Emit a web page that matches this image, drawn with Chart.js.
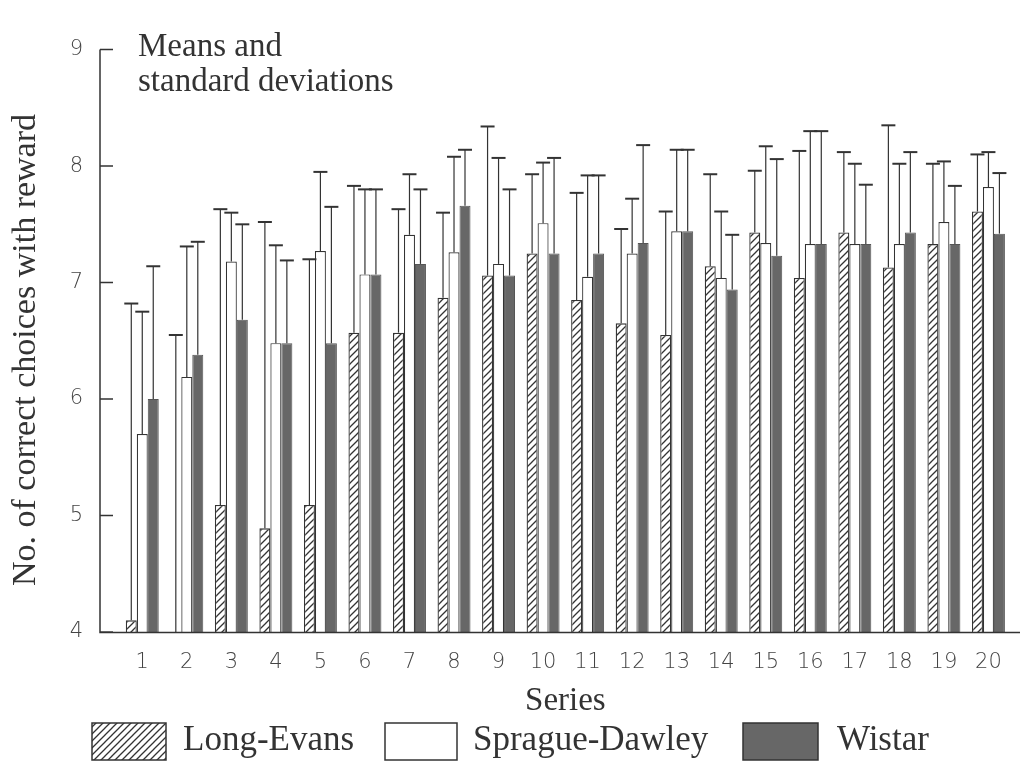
<!DOCTYPE html>
<html>
<head>
<meta charset="utf-8">
<title>Correct choices with reward</title>
<script src="https://cdn.jsdelivr.net/npm/chart.js@4/dist/chart.umd.min.js"></script>
<style>
	body { margin: 0; background: #fff; }
	#wrap { width: 1020px; height: 763px; }
</style>
</head>
<body>
<div id="wrap"><canvas id="barChart"></canvas></div>
<script>
// data
var series = ['1','2','3','4','5','6','7','8','9','10','11','12','13','14','15','16','17','18','19','20'];
var yTicks = [4, 5, 6, 7, 8, 9];

var longEvans   = [4.10, 4.00, 5.09, 4.89, 5.09, 6.57, 6.57, 6.87, 7.06, 7.25, 6.85, 6.65, 6.55, 7.14, 7.43, 7.04, 7.43, 7.13, 7.33, 7.61];
var longEvansSd = [2.72, 2.55, 2.54, 2.63, 2.11, 1.26, 1.06, 0.73, 1.28, 0.68, 0.92, 0.81, 1.06, 0.79, 0.53, 1.09, 0.69, 1.22, 0.69, 0.49];

var sprague     = [5.70, 6.19, 7.18, 6.48, 7.27, 7.07, 7.41, 7.26, 7.16, 7.51, 7.05, 7.25, 7.44, 7.04, 7.34, 7.33, 7.33, 7.33, 7.52, 7.82];
var spragueSd   = [1.05, 1.12, 0.42, 0.84, 0.68, 0.73, 0.52, 0.82, 0.91, 0.52, 0.87, 0.47, 0.70, 0.57, 0.83, 0.97, 0.69, 0.69, 0.52, 0.30];

var wistar      = [6.00, 6.38, 6.68, 6.48, 6.48, 7.07, 7.16, 7.66, 7.06, 7.25, 7.25, 7.34, 7.44, 6.94, 7.23, 7.33, 7.33, 7.43, 7.33, 7.42];
var wistarSd    = [1.14, 0.97, 0.82, 0.71, 1.17, 0.73, 0.64, 0.48, 0.74, 0.82, 0.67, 0.84, 0.70, 0.47, 0.83, 0.97, 0.51, 0.69, 0.50, 0.52];

var ink = '#333';
var darkGray = '#676767';
var serif = '"Liberation Serif", "Times New Roman", serif';
var sans = '"DejaVu Sans", sans-serif';

var makeHatch = function() {
	var c = document.createElement('canvas');
	c.width = 7; c.height = 7;
	var g = c.getContext('2d');
	g.fillStyle = '#fff';
	g.fillRect(0, 0, 7, 7);
	g.strokeStyle = ink;
	g.lineWidth = 1.3;
	g.beginPath();
	g.moveTo(-1, 8); g.lineTo(8, -1);
	g.moveTo(-2, 2); g.lineTo(2, -2);
	g.moveTo(5, 9); g.lineTo(9, 5);
	g.stroke();
	return g.createPattern(c, 'repeat');
};
var hatch = makeHatch();

var sds = [longEvansSd, spragueSd, wistarSd];

// error bars on top of each bar
var errorBars = {
	id: 'errorBars',
	afterDatasetsDraw: function(chart) {
		var ctx = chart.ctx, y = chart.scales.y;
		ctx.save();
		ctx.strokeStyle = ink;
		chart.data.datasets.forEach(function(ds, i) {
			chart.getDatasetMeta(i).data.forEach(function(bar, j) {
				var top = y.getPixelForValue(ds.data[j] + sds[i][j]);
				ctx.lineWidth = 1.2;
				ctx.beginPath();
				ctx.moveTo(bar.x, bar.y);
				ctx.lineTo(bar.x, top);
				ctx.stroke();
				ctx.lineWidth = 2;
				ctx.beginPath();
				ctx.moveTo(bar.x - 7, top);
				ctx.lineTo(bar.x + 7, top);
				ctx.stroke();
			});
		});
		ctx.restore();
	}
};

// axes lines, inward ticks, y title, note and legend
var decorations = {
	id: 'decorations',
	afterDraw: function(chart) {
		var ctx = chart.ctx, y = chart.scales.y, area = chart.chartArea;
		ctx.save();
		ctx.strokeStyle = ink;
		ctx.lineWidth = 1.5;
		ctx.beginPath();
		ctx.moveTo(100, y.getPixelForValue(9));
		ctx.lineTo(100, area.bottom + 0.5);
		ctx.lineTo(1020, area.bottom + 0.5);
		yTicks.forEach(function(v) {
			var py = y.getPixelForValue(v);
			ctx.moveTo(100, py);
			ctx.lineTo(113, py);
		});
		ctx.stroke();

		ctx.fillStyle = ink;
		ctx.font = '34px ' + serif;
		ctx.textAlign = 'center';
		ctx.textBaseline = 'middle';
		ctx.save();
		ctx.translate(26, 350);
		ctx.rotate(-Math.PI / 2);
		ctx.fillText('No. of correct choices with reward', 0, 0);
		ctx.restore();

		ctx.font = '33px ' + serif;
		ctx.textAlign = 'left';
		ctx.textBaseline = 'alphabetic';
		ctx.fillText('Means and', 138, 56);
		ctx.fillText('standard deviations', 138, 91);

		var items = [
			{ label: chart.data.datasets[0].label, fill: hatch, x: 92, w: 74, tx: 183 },
			{ label: chart.data.datasets[1].label, fill: '#fff', x: 385, w: 72, tx: 473 },
			{ label: chart.data.datasets[2].label, fill: darkGray, x: 743, w: 75, tx: 837 }
		];
		ctx.font = '35px ' + serif;
		ctx.textBaseline = 'middle';
		items.forEach(function(it) {
			ctx.fillStyle = it.fill;
			ctx.fillRect(it.x, 723, it.w, 37);
			ctx.lineWidth = 1.5;
			ctx.strokeStyle = ink;
			ctx.strokeRect(it.x, 723, it.w, 37);
			ctx.fillStyle = ink;
			ctx.fillText(it.label, it.tx, 741);
		});
		ctx.restore();
	}
};

var ctx = document.getElementById('barChart');
var barChart = new Chart(ctx, {
	type: 'bar',
	data: {
		labels: series,
		datasets: [{
			label: 'Long-Evans',
			data: longEvans,
			backgroundColor: hatch,
			borderColor: ink,
			borderWidth: 1.3
		},{
			label: 'Sprague-Dawley',
			data: sprague,
			backgroundColor: '#fff',
			borderColor: ink,
			borderWidth: 1.2
		},{
			label: 'Wistar',
			data: wistar,
			backgroundColor: darkGray,
			borderColor: '#555',
			borderWidth: 1
		}]
	},
	options: {
		responsive: true,
		maintainAspectRatio: false,
		animation: false,
		categoryPercentage: 0.74,
		barPercentage: 1.0,
		layout: { padding: { top: 21, right: 8, bottom: 42, left: 0 } },
		plugins: {
			legend: { display: false },
			tooltip: { enabled: false }
		},
		scales: {
			x: {
				grid: { display: false, drawTicks: false },
				border: { display: false },
				ticks: { color: '#444', font: { family: sans, size: 21, weight: 200 }, padding: 18, maxRotation: 0, autoSkip: false },
				title: { display: true, text: 'Series', color: ink, font: { family: serif, size: 33 }, padding: 0 },
				afterFit: function(scale) { scale.height = 89; }
			},
			y: {
				min: 4,
				max: 9,
				grid: { display: false, drawTicks: false },
				border: { display: false },
				ticks: { stepSize: 1, color: '#444', font: { family: sans, size: 21, weight: 200 }, padding: 37 },
				afterFit: function(scale) { scale.width = 120; }
			}
		}
	},
	plugins: [errorBars, decorations]
});
</script>
</body>
</html>
